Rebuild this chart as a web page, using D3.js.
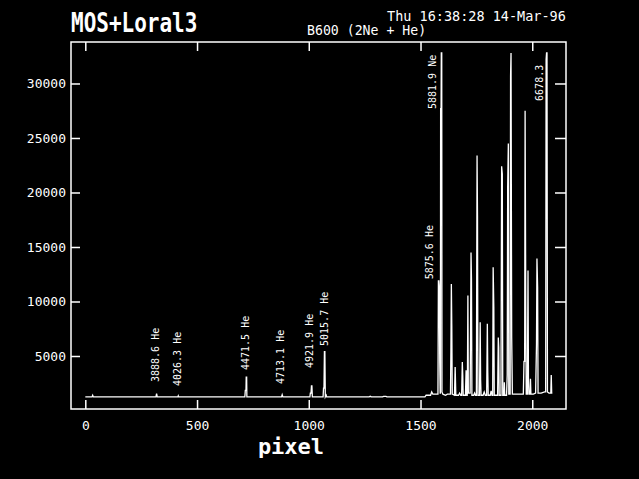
<!DOCTYPE html>
<html>
<head>
<meta charset="utf-8">
<script src="https://cdn.jsdelivr.net/npm/d3@7"></script>
<style>
  body { margin: 0; background: #000; }
  svg { display: block; background: #000; }
  text { fill: #fff; font-family: "DejaVu Sans Mono", monospace; }
</style>
</head>
<body>
<div id="chart"></div>
<script>
// Spectrum polyline: pixel and counts
var pixel = [0, 30, 33, 36, 316, 319, 322, 414, 416, 418,
  714, 716, 719, 720, 722, 723, 878, 881, 884,
  1005, 1007, 1010, 1012, 1014, 1016,
  1064, 1066, 1068, 1070, 1072, 1074, 1078, 1080,
  1270, 1275, 1280, 1330, 1335, 1345, 1350,
  1520, 1525, 1545, 1550, 1555, 1570,
  1578, 1580, 1582, 1584, 1586, 1588,
  1589, 1590, 1592, 1593, 1595, 1596,
  1600, 1612, 1620, 1634, 1636, 1638, 1640, 1642,
  1652, 1655, 1658, 1670, 1675, 1680,
  1684, 1687, 1689, 1691, 1701, 1704, 1707,
  1709, 1710, 1712, 1714, 1722, 1724, 1726, 1728, 1730,
  1738, 1742, 1746, 1750, 1753, 1755, 1757,
  1764, 1767, 1769, 1771, 1780, 1785, 1790,
  1796, 1799, 1801, 1803, 1812, 1816, 1820,
  1823, 1825, 1828, 1830, 1845, 1848, 1850, 1852,
  1860, 1863, 1866, 1868, 1873, 1875, 1877,
  1885, 1888, 1890, 1893, 1895,
  1901, 1903, 1905, 1908, 1911,
  1920, 1960, 1963, 1966, 1968, 1971, 1973,
  1978, 1981, 1983, 1985, 1990, 1992, 1994,
  2005, 2015, 2019, 2021, 2024, 2026,
  2040, 2055, 2060, 2062, 2064, 2066, 2068,
  2075, 2083, 2085, 2087, 2090];

var counts = [1250, 1250, 1400, 1250, 1250, 1550, 1250, 1250, 1350, 1250,
  1250, 1850, 1850, 3050, 3050, 1250, 1250, 1450, 1250,
  1250, 1600, 1600, 2250, 2250, 1250,
  1250, 2050, 2050, 5400, 5400, 1250, 1400, 1250,
  1250, 1300, 1250, 1250, 1300, 1300, 1250,
  1250, 1400, 1400, 1700, 1500, 1500,
  1500, 11900, 11900, 11300, 4400, 1600,
  1600, 27700, 27700, 32800, 32800, 1700,
  1500, 1400, 1500, 1500, 5500, 11600, 7800, 1500,
  1400, 4000, 1400, 1400, 1600, 1400,
  1400, 4450, 3250, 1400, 1400, 3700, 1400,
  1400, 3250, 10550, 1600, 1600, 7650, 14500, 12100, 1400,
  1400, 1600, 1400, 1400, 23400, 17900, 1400,
  1400, 8100, 2800, 1400, 1400, 1700, 1400,
  1400, 7950, 3500, 1400, 1400, 1800, 1400,
  1400, 13150, 9500, 1400, 1400, 6700, 5800, 1400,
  1400, 22400, 21700, 1400, 1400, 2600, 1400,
  1400, 3300, 20600, 24500, 1500,
  1500, 30700, 32800, 6700, 1500,
  1500, 1500, 4500, 4500, 27500, 9500, 1500,
  1500, 12850, 2900, 1500, 1500, 2900, 1500,
  1500, 1600, 6100, 13950, 11300, 1600,
  1600, 1700, 1700, 32200, 32800, 32800, 1700,
  1600, 1600, 3250, 1600, 1600];

// Line identifications
var lineNames = ["3888.6 He", "4026.3 He", "4471.5 He", "4713.1 He", "4921.9 He",
  "5015.7 He", "5875.6 He", "5881.9 Ne", "6678.3"];
var linePixel = [312, 413, 718, 874, 1005, 1072, 1539, 1553, 2031];
var lineCounts = [2615, 2250, 3715, 2430, 3900, 5920, 12040, 27660, 28400];

var xTicks = [0, 500, 1000, 1500, 2000];
var yTicks = [5000, 10000, 15000, 20000, 25000, 30000];

// Define SVG
var svgWidth = 639;
var svgHeight = 479;

var margin = { top: 42, right: 73, bottom: 70, left: 71 };
var chartWidth = svgWidth - margin.left - margin.right;
var chartHeight = svgHeight - margin.top - margin.bottom;

var svg = d3.select("#chart")
  .append("svg")
  .attr("width", svgWidth)
  .attr("height", svgHeight);

var chartGroup = svg.append("g")
  .attr("transform", `translate(${margin.left}, ${margin.top})`);

// Scales
var xScale = d3.scaleLinear()
  .domain([-64, 2151])
  .range([0, chartWidth]);

var yScale = d3.scaleLinear()
  .domain([138, 33806])
  .range([chartHeight, 0]);

// Axes, ticks pointing inward
var fmt = d3.format("d");
var bottomAxis = d3.axisBottom(xScale).tickValues(xTicks).tickFormat(fmt).tickSize(-9).tickSizeOuter(0).tickPadding(12);
var topAxis = d3.axisTop(xScale).tickValues(xTicks).tickSize(-9).tickSizeOuter(0).tickFormat("");
var leftAxis = d3.axisLeft(yScale).tickValues(yTicks).tickFormat(fmt).tickSize(-9).tickSizeOuter(0).tickPadding(5);
var rightAxis = d3.axisRight(yScale).tickValues(yTicks).tickSize(-11).tickSizeOuter(0).tickFormat("");

function styleAxis(g) {
  g.select(".domain").remove();
  g.selectAll("line").attr("stroke", "#fff").attr("stroke-width", 1.5);
  g.selectAll("text")
    .attr("fill", "#fff")
    .style("font-family", "'DejaVu Sans Mono', monospace")
    .style("font-size", "13px");
}

chartGroup.append("g")
  .attr("transform", `translate(0, ${chartHeight})`)
  .call(bottomAxis)
  .call(styleAxis);

chartGroup.append("g")
  .call(topAxis)
  .call(styleAxis);

chartGroup.append("g")
  .call(leftAxis)
  .call(styleAxis);

chartGroup.append("g")
  .attr("transform", `translate(${chartWidth}, 0)`)
  .call(rightAxis)
  .call(styleAxis);

// Frame
chartGroup.append("rect")
  .attr("width", chartWidth)
  .attr("height", chartHeight)
  .attr("fill", "none")
  .attr("stroke", "#fff")
  .attr("stroke-width", 1.5);

// Spectrum
var spectrum = pixel.map((p, i) => [p, counts[i]]);

var line = d3.line()
  .x(d => xScale(d[0]))
  .y(d => yScale(d[1]));

chartGroup.append("path")
  .datum(spectrum)
  .attr("d", line)
  .attr("fill", "none")
  .attr("stroke", "#fff")
  .attr("stroke-width", 1.3);

// Line labels (rotated, reading upward)
chartGroup.selectAll(".lineLabel")
  .data(lineNames)
  .enter()
  .append("text")
  .attr("class", "lineLabel")
  .attr("transform", (d, i) => `translate(${xScale(linePixel[i])}, ${yScale(lineCounts[i])}) rotate(-90)`)
  .attr("dy", "0.35em")
  .style("font-size", "10px")
  .text(d => d);

// Title and header texts
svg.append("text")
  .attr("transform", "translate(71, 32) scale(1, 1.25)")
  .style("font-size", "21px")
  .style("font-weight", "bold")
  .text("MOS+Loral3");

svg.append("text")
  .attr("x", 387)
  .attr("y", 21)
  .style("font-size", "13.5px")
  .text("Thu 16:38:28 14-Mar-96");

svg.append("text")
  .attr("x", 307)
  .attr("y", 35)
  .style("font-size", "13.2px")
  .text("B600 (2Ne + He)");

// x axis title
svg.append("text")
  .attr("x", 291)
  .attr("y", 454)
  .attr("text-anchor", "middle")
  .style("font-size", "22px")
  .style("font-weight", "bold")
  .text("pixel");
</script>
</body>
</html>
